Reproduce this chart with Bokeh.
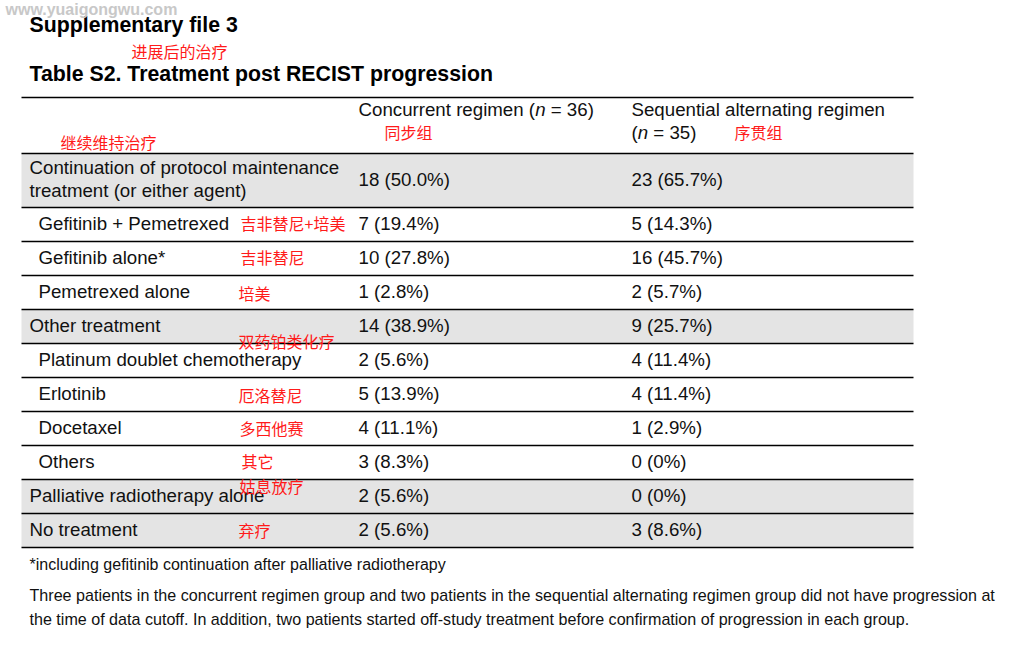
from bokeh.plotting import figure
from bokeh.models import Range1d, ColumnDataSource
from bokeh.core.properties import value
from bokeh.embed import file_html
from bokeh.resources import INLINE

# ---------------- data ----------------
row_labels = [
    ["Continuation of protocol maintenance", "treatment (or either agent)"],
    ["Gefitinib + Pemetrexed"],
    ["Gefitinib alone*"],
    ["Pemetrexed alone"],
    ["Other treatment"],
    ["Platinum doublet chemotherapy"],
    ["Erlotinib"],
    ["Docetaxel"],
    ["Others"],
    ["Palliative radiotherapy alone"],
    ["No treatment"],
]
row_level = [0, 1, 1, 1, 0, 1, 1, 1, 1, 0, 0]
row_shaded = [1, 0, 0, 0, 1, 0, 0, 0, 0, 1, 1]
conc_n = [18, 7, 10, 1, 14, 2, 5, 4, 3, 2, 2]
conc_pct = [50.0, 19.4, 27.8, 2.8, 38.9, 5.6, 13.9, 11.1, 8.3, 5.6, 5.6]
seq_n = [23, 5, 16, 2, 9, 4, 4, 1, 0, 0, 3]
seq_pct = [65.7, 14.3, 45.7, 5.7, 25.7, 11.4, 11.4, 2.9, 0, 0, 8.6]
row_notes_cn = ["", "吉非替尼+培美", "吉非替尼", "培美", "", "双药铂类化疗",
                "厄洛替尼", "多西他赛", "其它", "姑息放疗", "弃疗"]

title1 = "Supplementary file 3"
title2 = "Table S2. Treatment post RECIST progression"
col1_head = ("Concurrent regimen (", "n", "\u00a0= 36)")
col2_head = ("Sequential alternating regimen", "(", "n", "\u00a0= 35)")
footnote = "*including gefitinib continuation after palliative radiotherapy"
para = ["Three patients in the concurrent regimen group and two patients in the sequential alternating regimen group did not have progression at",
        "the time of data cutoff. In addition, two patients started off-study treatment before confirmation of progression in each group."]
watermark = "www.yuaigongwu.com"
cn_title = "进展后的治疗"
cn_cont = "继续维持治疗"
cn_col1 = "同步组"
cn_col2 = "序贯组"


def fmt(n, p):
    if n == 0:
        return "0 (0%)"
    return f"{n} ({p:.1f}%)"


# ---------------- layout ----------------
W, H = 1002, 634
p = figure(width=W, height=H, output_backend="svg", toolbar_location=None,
           x_range=Range1d(0, W), y_range=Range1d(H, 0),
           min_border=0, outline_line_color=None)
p.axis.visible = False
p.grid.visible = False
p.background_fill_color = "white"

SANS = value("Liberation Sans")
CJK = value("Noto Sans CJK SC")
FSV = 18.7
FS = f"{FSV}px"
RED = "#ff1a1a"
INK = "#111111"
DY = -1     # latin text vertical nudge
DYC = -2    # CJK text vertical nudge

tl, tr = 21, 913
x_lab0, x_lab1 = 29, 38
x_c1, x_c2 = 358, 631

top_rule = 97
head_bot = 153
heights = [54 if len(l) == 2 else 34 for l in row_labels]
tops = []
y = head_bot
for h in heights:
    tops.append(y)
    y += h
bottoms = [t + h for t, h in zip(tops, heights)]
centers = [(t + b) / 2 for t, b in zip(tops, bottoms)]

# shaded rows
sh = [i for i, s in enumerate(row_shaded) if s]
p.quad(left=[tl] * len(sh), right=[tr] * len(sh),
       top=[tops[i] for i in sh], bottom=[bottoms[i] for i in sh],
       fill_color="#e4e4e4", line_color=None)

# rules
rules = [top_rule, head_bot] + bottoms
p.segment(x0=[tl] * len(rules), x1=[tr] * len(rules), y0=rules, y1=rules,
          line_color="black", line_width=1.3)

# row labels
lx, ly, lt = [], [], []
for i, lines in enumerate(row_labels):
    x = x_lab0 if row_level[i] == 0 else x_lab1
    if len(lines) == 1:
        lx.append(x); ly.append(centers[i] + DY); lt.append(lines[0])
    else:
        lx += [x, x]; ly += [centers[i] - 12 + DY, centers[i] + 11 + DY]; lt += lines
p.text(x=lx, y=ly, text=lt, text_font=SANS, text_font_size=FS,
       text_baseline="middle", text_color=INK)

# values
src = ColumnDataSource(dict(
    y=[c + DY for c in centers],
    c1=[fmt(n, q) for n, q in zip(conc_n, conc_pct)],
    c2=[fmt(n, q) for n, q in zip(seq_n, seq_pct)],
))
p.text(x=x_c1, y="y", text="c1", source=src, text_font=SANS, text_font_size=FS,
       text_baseline="middle", text_color=INK)
p.text(x=x_c2, y="y", text="c2", source=src, text_font=SANS, text_font_size=FS,
       text_baseline="middle", text_color=INK)

# headers (with italic n)
em = FSV / 1000
w_conc = 9447 * em
w_n = 556 * em
w_par = 333 * em
h1, h2 = 110 + DY, 133 + DY
p.text(x=[x_c1], y=[h1], text=[col1_head[0]], text_font=SANS, text_font_size=FS,
       text_baseline="middle", text_color=INK)
p.text(x=[x_c1 + w_conc], y=[h1], text=[col1_head[1]], text_font=SANS, text_font_size=FS,
       text_font_style="italic", text_baseline="middle", text_color=INK)
p.text(x=[x_c1 + w_conc + w_n], y=[h1], text=[col1_head[2]], text_font=SANS, text_font_size=FS,
       text_baseline="middle", text_color=INK)
p.text(x=[x_c2], y=[h1], text=[col2_head[0]], text_font=SANS, text_font_size=FS,
       text_baseline="middle", text_color=INK)
p.text(x=[x_c2], y=[h2], text=[col2_head[1]], text_font=SANS, text_font_size=FS,
       text_baseline="middle", text_color=INK)
p.text(x=[x_c2 + w_par], y=[h2], text=[col2_head[2]], text_font=SANS, text_font_size=FS,
       text_font_style="italic", text_baseline="middle", text_color=INK)
p.text(x=[x_c2 + w_par + w_n], y=[h2], text=[col2_head[3]], text_font=SANS, text_font_size=FS,
       text_baseline="middle", text_color=INK)

# titles
p.text(x=[29, 29], y=[25 + DY, 74 + DY], text=[title1, title2], text_font=SANS,
       text_font_size="21.3px", text_font_style="bold", text_baseline="middle",
       text_color="black")
p.text(x=[5], y=[9], text=[watermark], text_font=SANS, text_font_size="16px",
       text_font_style="bold", text_baseline="middle", text_color="#c8c8c8")

# footnotes
p.text(x=[29], y=[565 + DY], text=[footnote], text_font=SANS, text_font_size="16px",
       text_baseline="middle", text_color=INK)
p.text(x=[29, 29], y=[595 + DY, 619 + DY], text=para, text_font=SANS, text_font_size="16.1px",
       text_baseline="middle", text_color=INK)

# Chinese red annotations
cn_off = [0, 0, 0, 2, 0, -18, 2, 1, 0, -9, 1]
cn_x = [0, 240, 240, 238, 0, 238, 238, 239, 241, 239, 238]
nx, ny, nt = [], [], []
for i, t in enumerate(row_notes_cn):
    if t:
        nx.append(cn_x[i]); ny.append(centers[i] + cn_off[i] + DYC); nt.append(t)
p.text(x=nx, y=ny, text=nt, text_font=CJK, text_font_size="16px",
       text_baseline="middle", text_color=RED)
p.text(x=[131, 60, 384, 734], y=[52 + DYC, 143 + DYC, 133 + DYC, 133 + DYC],
       text=[cn_title, cn_cont, cn_col1, cn_col2], text_font=CJK,
       text_font_size="16px", text_baseline="middle", text_color=RED)

open("out.html", "w").write(file_html(p, INLINE))
